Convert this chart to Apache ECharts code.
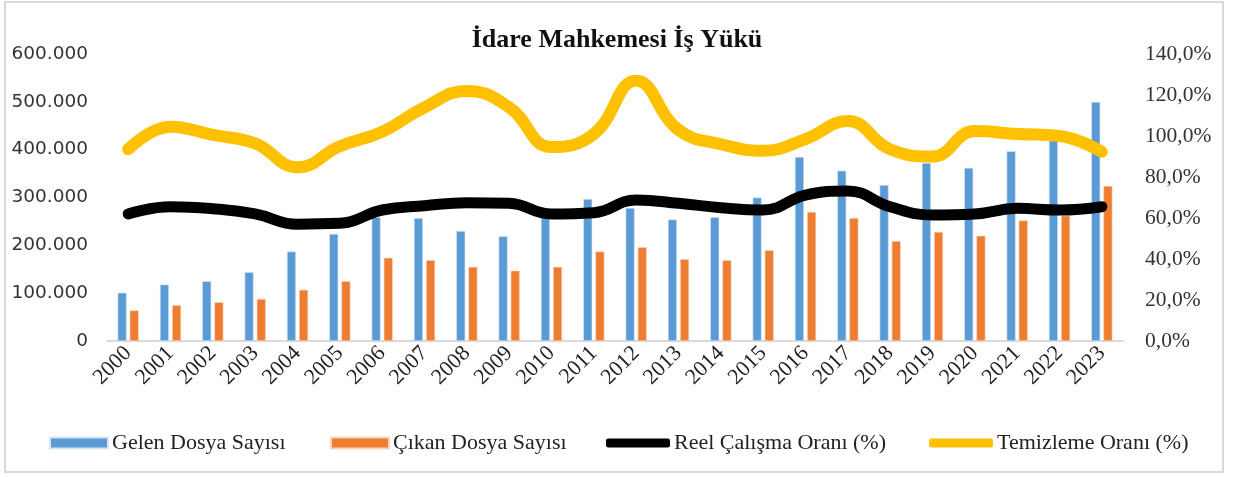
<!DOCTYPE html>
<html>
<head>
<meta charset="utf-8">
<script src="https://cdn.jsdelivr.net/npm/echarts@6/dist/echarts.min.js"></script>
<style>
  html, body { margin: 0; padding: 0; background: #fff; }
  .frame {
    position: absolute;
    left: 4px; top: 1px;
    width: 1216px; height: 468px;
    border: 2px solid #d9d9d9;
  }
  #chart { position: absolute; left: 0; top: 0; width: 1234px; height: 477px; }
</style>
</head>
<body>
<div class="frame"></div>
<div id="chart"></div>
<script>
// yıllar
const years = ['2000', '2001', '2002', '2003', '2004', '2005', '2006', '2007', '2008', '2009', '2010', '2011',
  '2012', '2013', '2014', '2015', '2016', '2017', '2018', '2019', '2020', '2021', '2022', '2023']
// dosya sayıları (sol eksen)
const gelenDosya = [101000, 118000, 125000, 144000, 187000, 224000, 259000, 257000, 230000, 219000, 258000, 297000,
  278000, 254000, 259000, 300000, 385000, 356000, 326000, 372000, 362000, 397000, 420000, 500000]
const cikanDosya = [64000, 75000, 81000, 88000, 107000, 125000, 174000, 169000, 155000, 147000, 155000, 187000,
  196000, 171000, 169000, 190000, 270000, 257000, 209000, 228000, 220000, 252000, 262000, 324000]
// oranlar % (sağ eksen)
const reelOran = [62, 65.5, 64.5, 62, 57, 57.4, 63.9, 66, 67.5, 67.2, 62, 62.6,
  68.8, 67.2, 65, 63.9, 71.2, 73.2, 65.5, 61.5, 62, 64.7, 63.9, 65.5]
const temizlemeOran = [93.5, 104.5, 100.5, 96.4, 84.7, 95, 102, 114, 122, 114, 94.6, 101,
  127, 103, 96, 92.8, 98.5, 107.3, 93.5, 90, 102.4, 101, 100, 92.3]
// eksen ölçekleri
const leftTicks = [0, 100000, 200000, 300000, 400000, 500000, 600000]
const rightTicks = [0, 20, 40, 60, 80, 100, 120, 140]

const seriesNames = ['Gelen Dosya Sayısı', 'Çıkan Dosya Sayısı', 'Reel Çalışma Oranı (%)', 'Temizleme Oranı (%)']
const colors = ['#5b9bd5', '#ed7d31', '#000000', '#ffc000']

const chart = echarts.init(document.getElementById('chart'))

const legendLeft = [44, 325, 601, 924]
const legends = seriesNames.map((name, i) => ({
  left: legendLeft[i],
  top: 427,
  itemWidth: i < 2 ? 58 : 64,
  itemHeight: i < 2 ? 11 : 9,
  itemGap: 6,
  selectedMode: false,
  textStyle: {
    fontFamily: 'Liberation Serif',
    fontSize: 22,
    color: '#222',
    padding: [0, 0, 0, -1],
  },
  data: [{
    name: name,
    icon: i < 2 ? 'rect' : 'roundRect',
    itemStyle: { color: colors[i] },
  }],
}))

const option = {
  animation: false,
  title: {
    text: 'İdare Mahkemesi İş Yükü',
    left: 'center',
    top: 22,
    textStyle: {
      fontFamily: 'Liberation Serif',
      fontWeight: 'bold',
      fontSize: 26,
      color: '#111',
    },
  },
  legend: legends,
  grid: {
    left: 107,
    right: 111,
    top: 54,
    bottom: 136,
  },
  xAxis: {
    type: 'category',
    data: years,
    axisLine: { lineStyle: { color: '#d9d9d9', width: 2 } },
    axisTick: { show: false },
    axisLabel: {
      rotate: 45,
      interval: 0,
      margin: 9,
      fontFamily: 'Liberation Serif',
      fontSize: 22,
      color: '#222',
    },
  },
  yAxis: [
    {
      type: 'value',
      min: leftTicks[0],
      max: leftTicks[leftTicks.length - 1],
      interval: 100000,
      axisLine: { show: false },
      axisTick: { show: false },
      splitLine: { show: false },
      axisLabel: {
        margin: 19,
        fontFamily: 'DejaVu Sans',
        fontSize: 18.5,
        color: '#333',
        formatter: (v) => (v === 0 ? '0' : (v / 1000).toFixed(0) + '.000'),
      },
    },
    {
      type: 'value',
      min: rightTicks[0],
      max: rightTicks[rightTicks.length - 1],
      interval: 20,
      position: 'right',
      axisLine: { show: false },
      axisTick: { show: false },
      splitLine: { show: false },
      axisLabel: {
        margin: 22,
        fontFamily: 'Liberation Serif',
        fontSize: 21.5,
        color: '#333',
        formatter: (v) => v.toFixed(1).replace('.', ',') + '%',
      },
    },
  ],
  series: [
    {
      name: seriesNames[0],
      type: 'bar',
      yAxisIndex: 0,
      barWidth: 9,
      barGap: '35%',
      itemStyle: { color: colors[0], borderColor: '#d6e6f5', borderWidth: 0.6 },
      data: gelenDosya,
    },
    {
      name: seriesNames[1],
      type: 'bar',
      yAxisIndex: 0,
      barWidth: 9,
      itemStyle: { color: colors[1], borderColor: '#f8d5bd', borderWidth: 0.6 },
      data: cikanDosya,
    },
    {
      name: seriesNames[2],
      type: 'line',
      yAxisIndex: 1,
      smooth: 0.45,
      showSymbol: false,
      symbol: 'none',
      z: 3,
      lineStyle: { color: colors[2], width: 11, cap: 'round', join: 'round' },
      itemStyle: { color: colors[2] },
      data: reelOran,
    },
    {
      name: seriesNames[3],
      type: 'line',
      yAxisIndex: 1,
      smooth: 0.45,
      showSymbol: false,
      symbol: 'none',
      z: 4,
      lineStyle: { color: colors[3], width: 12, cap: 'round', join: 'round' },
      itemStyle: { color: colors[3] },
      data: temizlemeOran,
    },
  ],
}

chart.setOption(option)
</script>
</body>
</html>
